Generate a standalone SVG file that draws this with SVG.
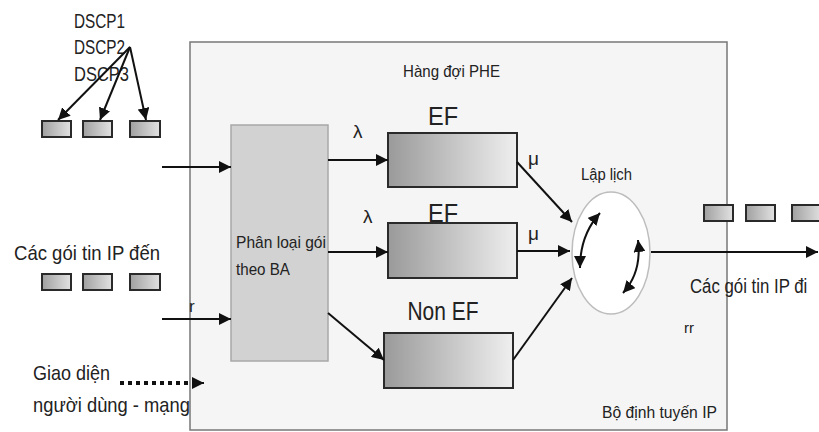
<svg xmlns="http://www.w3.org/2000/svg" width="819" height="432" viewBox="0 0 819 432">
<defs>
<linearGradient id="q" x1="0" y1="0" x2="1" y2="0"><stop offset="0" stop-color="#9a9a9a"/><stop offset="1" stop-color="#efefef"/></linearGradient>
<linearGradient id="p" x1="0" y1="0" x2="1" y2="0"><stop offset="0" stop-color="#a0a0a0"/><stop offset="1" stop-color="#e2e2e2"/></linearGradient>
<marker id="ah" viewBox="0 0 10 10" refX="10" refY="5" markerWidth="12" markerHeight="12" markerUnits="userSpaceOnUse" orient="auto-start-reverse"><path d="M0,0 L10,5 L0,10 z" fill="#111"/></marker>
</defs>
<style>
text{font-family:"Liberation Sans",Arial,sans-serif;fill:#222}
.q{fill:url(#q);stroke:#2a2a2a;stroke-width:2}
.pk{fill:url(#p);stroke:#2a2a2a;stroke-width:2}
.ln{stroke:#111;stroke-width:2;fill:none}
.a{marker-end:url(#ah)}
</style>
<rect width="819" height="432" fill="#fff"/>
<g id="router"><rect x="190" y="42" width="537" height="388" fill="#f5f5f5" stroke="#777" stroke-width="1.5"/>
<text x="602" y="418" font-size="17" textLength="115" lengthAdjust="spacingAndGlyphs">Bộ định tuyến IP</text>
<text x="403" y="77" font-size="17" textLength="97" lengthAdjust="spacingAndGlyphs">Hàng đợi PHE</text></g>
<g id="classifier"><rect x="231" y="125" width="97" height="236" fill="#d2d2d2" stroke="#a8a8a8" stroke-width="1.5"/>
<text x="236" y="248" font-size="17" textLength="90" lengthAdjust="spacingAndGlyphs">Phân loại gói</text>
<text x="236" y="275" font-size="17" textLength="54" lengthAdjust="spacingAndGlyphs">theo BA</text></g>
<g id="ef1"><rect class="q" x="388" y="133" width="129" height="54"/><text x="443" y="125" font-size="25" text-anchor="middle" textLength="30" lengthAdjust="spacingAndGlyphs">EF</text></g>
<g id="ef2"><rect class="q" x="388" y="223" width="129" height="55"/><text x="443" y="222" font-size="25" text-anchor="middle" textLength="30" lengthAdjust="spacingAndGlyphs">EF</text></g>
<g id="nonef"><rect class="q" x="384" y="333" width="129" height="55"/><text x="443" y="320" font-size="25" text-anchor="middle" textLength="71" lengthAdjust="spacingAndGlyphs">Non EF</text></g>
<g id="scheduler"><ellipse cx="611" cy="253" rx="39" ry="61" fill="#fff" stroke="#bdbdbd" stroke-width="1.5"/>
<text x="581" y="180" font-size="16" textLength="51" lengthAdjust="spacingAndGlyphs">Lập lịch</text>
<path class="ln" d="M600,213 Q580,235 580,268" marker-start="url(#ah)" marker-end="url(#ah)"/>
<path class="ln" d="M638,240 Q642,272 623,293" marker-start="url(#ah)" marker-end="url(#ah)"/></g>
<g id="packets-in-top"><rect class="pk" x="42" y="121" width="29" height="16"/><rect class="pk" x="83" y="121" width="29" height="16"/><rect class="pk" x="130" y="121" width="30" height="16"/></g>
<g id="dscp"><text x="74" y="28" font-size="20" textLength="51" lengthAdjust="spacingAndGlyphs">DSCP1</text>
<text x="74" y="54" font-size="20" textLength="51" lengthAdjust="spacingAndGlyphs">DSCP2</text>
<text x="74" y="81" font-size="20" textLength="55" lengthAdjust="spacingAndGlyphs">DSCP3</text></g>
<g id="packets-in"><text x="14" y="260" font-size="21" textLength="146" lengthAdjust="spacingAndGlyphs">Các gói tin IP đến</text>
<rect class="pk" x="42" y="274" width="29" height="16"/><rect class="pk" x="83" y="274" width="29" height="16"/><rect class="pk" x="130" y="274" width="30" height="16"/></g>
<g id="packets-out"><rect class="pk" x="704" y="205" width="29" height="16"/><rect class="pk" x="746" y="205" width="29" height="16"/><rect class="pk" x="792" y="205" width="30" height="16"/>
<text transform="translate(690,293) scale(0.8,1)" font-size="21">Các gói tin IP đi</text></g>
<g id="uni"><text x="33" y="380" font-size="21" textLength="77" lengthAdjust="spacingAndGlyphs">Giao diện</text>
<text x="33" y="412" font-size="21" textLength="157" lengthAdjust="spacingAndGlyphs">người dùng - mạng</text></g>
<g id="labels"><text x="353" y="138" font-size="19">λ</text><text x="363" y="223" font-size="19">λ</text>
<text x="528" y="165" font-size="19">μ</text><text x="528" y="240" font-size="19">μ</text>
<text x="189" y="312" font-size="17">r</text><text x="684" y="333" font-size="15">rr</text></g>
<g id="connectors">
<line class="ln a" x1="130" y1="47" x2="58" y2="120"/>
<line class="ln a" x1="130" y1="47" x2="100" y2="120"/>
<line class="ln a" x1="130" y1="47" x2="146" y2="120"/>
<line class="ln a" x1="162" y1="167" x2="231" y2="167"/>
<line class="ln a" x1="162" y1="319" x2="231" y2="319"/>
<line x1="120" y1="383" x2="196" y2="383" stroke="#111" stroke-width="4" stroke-dasharray="4 4"/>
<line class="ln a" x1="194" y1="383" x2="204" y2="383"/>
<line class="ln a" x1="328" y1="160" x2="388" y2="160"/>
<line class="ln a" x1="328" y1="252" x2="388" y2="252"/>
<line class="ln a" x1="328" y1="313" x2="384" y2="360"/>
<line class="ln a" x1="517" y1="162" x2="572" y2="222"/>
<line class="ln a" x1="517" y1="251" x2="570" y2="251"/>
<line class="ln a" x1="513" y1="360" x2="572" y2="278"/>
<line class="ln a" x1="651" y1="252" x2="818" y2="252"/>
</g>
</svg>
